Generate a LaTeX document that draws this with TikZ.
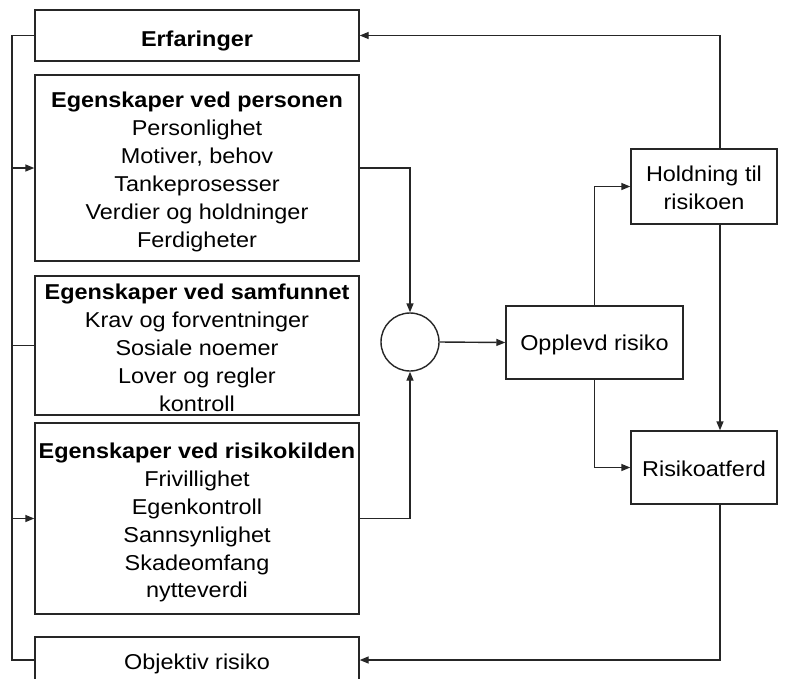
\documentclass[tikz,border=0pt]{standalone}
\usepackage{fontspec}
\setmainfont[FakeStretch=1.09]{Liberation Sans}
\usetikzlibrary{arrows.meta}
\begin{document}
\begin{tikzpicture}[x=1pt,y=-1pt,
  box/.style={draw=black!85, line width=1.4pt, rectangle, inner sep=0pt, align=center,
    font=\fontsize{21.5}{27.9}\selectfont, text=black, text height=18pt, text depth=0pt},
  link/.style={draw=black!85, line width=1.4pt},
  arr/.style={link, -{Triangle[length=9pt,width=7pt]}}]
\clip (0,0) rectangle (800,678);
\fill[white] (0,0) rectangle (800,678);
\newcommand{\hdr}[1]{{\bfseries #1}}
\coordinate (lx) at (12,0);
\coordinate (vx) at (720,0);
% left column
\node[box, minimum width=324pt, minimum height=51pt, text height=22.8pt] (erf) at (197,35.5) {\hdr{Erfaringer}};
\node[box, minimum width=324pt, minimum height=186pt, text height=158.9pt] (pers) at (197,168)
  {\hdr{Egenskaper ved personen}\\Personlighet\\Motiver, behov\\Tankeprosesser\\Verdier og holdninger\\Ferdigheter};
\node[box, minimum width=324pt, minimum height=139pt, text height=131pt] (samf) at (197,345.5)
  {\hdr{Egenskaper ved samfunnet}\\Krav og forventninger\\Sosiale noemer\\Lover og regler\\kontroll};
\node[box, minimum width=324pt, minimum height=191pt, text height=158.9pt] (kild) at (197,518.5)
  {\hdr{Egenskaper ved risikokilden}\\Frivillighet\\Egenkontroll\\Sannsynlighet\\Skadeomfang\\nytteverdi};
\node[box, minimum width=324pt, minimum height=46pt, text height=19.4pt] (obj) at (197,660) {Objektiv risiko};
% middle / right
\node[draw=black!85, line width=1.4pt, circle, minimum size=58pt, inner sep=0pt] (circ) at (410,342) {};
\node[box, minimum width=177pt, minimum height=73pt, text height=16.4pt] (opp) at (594.5,342.5) {Opplevd risiko};
\node[box, minimum width=146pt, minimum height=75pt, text height=46.3pt] (hold) at (704,186.5) {Holdning til\\risikoen};
\node[box, minimum width=146pt, minimum height=73pt, text height=18.4pt] (atf) at (704,467.5) {Risikoatferd};
% connectors
\draw[link] (erf.west) -| (lx |- obj.west) -- (obj.west);
\draw[arr] (lx |- pers.west) -- (pers.west);
\draw[link] (lx |- samf.west) -- (samf.west);
\draw[arr] (lx |- kild.west) -- (kild.west);
\draw[arr] (pers.east) -| (circ.north);
\draw[arr] (kild.east) -| (circ.south);
\draw[arr] (circ.east) -- (opp.west);
\draw[arr] (opp.north) |- (hold.west);
\draw[arr] (opp.south) |- (atf.west);
\draw[arr] (hold.north -| vx) |- (erf.east);
\draw[arr] (hold.south -| vx) -- (atf.north -| vx);
\draw[arr] (atf.south -| vx) |- (obj.east);
\end{tikzpicture}
\end{document}
